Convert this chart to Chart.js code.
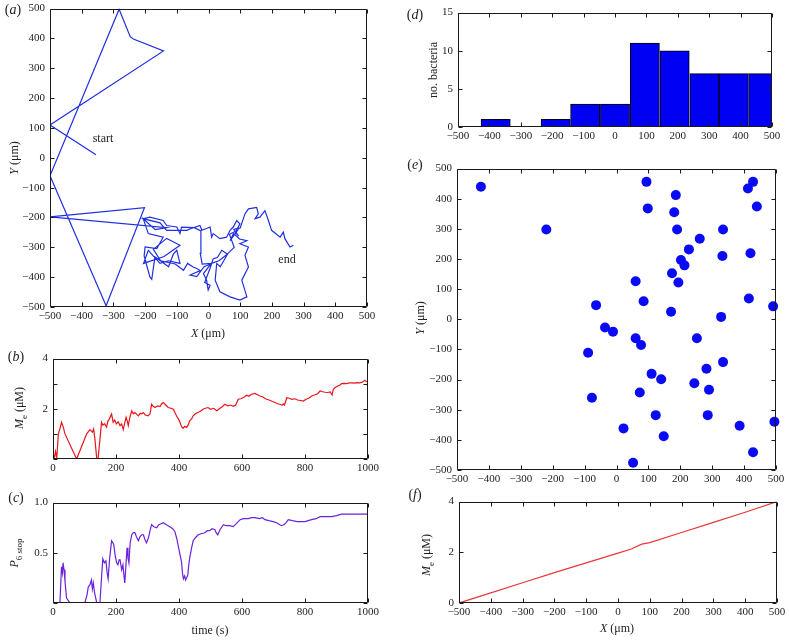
<!DOCTYPE html>
<html>
<head>
<meta charset="utf-8">
<script src="https://cdn.jsdelivr.net/npm/chart.js@4.4.1/dist/chart.umd.min.js"></script>
<style>
  body { margin: 0; background: #fff; }
  #fig { position: relative; width: 789px; height: 641px; overflow: hidden;
         font-family: "Liberation Serif", "DejaVu Serif", serif; color: #222; }
  canvas { position: absolute; }
  .lb { position: absolute; white-space: nowrap; transform: translate(-50%, -50%); font-size: 12px; line-height: 1; }
  .rot { transform: translate(-50%, -50%) rotate(-90deg); }
  .pl { font-size: 14px; }
  sub { font-size: 9px; }
</style>
</head>
<body>
<div id="fig">
  <canvas id="cA"></canvas>
  <canvas id="cB"></canvas>
  <canvas id="cC"></canvas>
  <canvas id="cD"></canvas>
  <canvas id="cE"></canvas>
  <canvas id="cF"></canvas>

  <div class="lb pl" style="left:13px;top:10px">(<i>a</i>)</div>
  <div class="lb rot" style="left:14px;top:158px"><i>Y</i> (μm)</div>
  <div class="lb" style="left:208px;top:333px"><i>X</i> (μm)</div>
  <div class="lb" style="left:103px;top:138px">start</div>
  <div class="lb" style="left:287px;top:259px">end</div>

  <div class="lb pl" style="left:16px;top:357px">(<i>b</i>)</div>
  <div class="lb rot" style="left:21px;top:408px"><i>M</i><sub>e</sub> (μM)</div>

  <div class="lb pl" style="left:16px;top:498px">(<i>c</i>)</div>
  <div class="lb rot" style="left:16px;top:553px"><i>P</i><sub>6 stop</sub></div>
  <div class="lb" style="left:210px;top:630px">time (s)</div>

  <div class="lb pl" style="left:415px;top:15px">(<i>d</i>)</div>
  <div class="lb rot" style="left:433px;top:70px">no. bacteria</div>

  <div class="lb pl" style="left:415px;top:165px">(<i>e</i>)</div>
  <div class="lb rot" style="left:420px;top:318px"><i>Y</i> (μm)</div>

  <div class="lb pl" style="left:415px;top:495px">(<i>f</i>)</div>
  <div class="lb rot" style="left:428px;top:555px"><i>M</i><sub>e</sub> (μM)</div>
  <div class="lb" style="left:617px;top:628px"><i>X</i> (μm)</div>
</div>

<script>
// (a) trajectory of one bacterium, X / Y in um
var trajX = [-355,-500,-142,-237,-247,-282,-500,-323,-202,-500,
  -132,-168,-200,-206,-190,-143,-163,-200,-203,-185,
  -179,-169,-126,-111,-100,-90,-126,-153,-190,-205,
  -140,-90,-132,-174,-151,-105,-79,-66,-47,-37,
  -26,-58,-37,-14,7,-16,-6,-1,5,-12,
  5,15,28,42,60,37,26,21,36,68,
  99,121,105,126,115,126,99,121,98,79,
  68,92,66,81,56,33,9,-20,-26,-24,
  -45,-85,-90,-100,-132,-143,-185,-206,-153,-132,
  -68,-58,-27,-21,5,10,15,36,57,68,
  78,89,99,85,95,80,100,115,126,152,
  157,147,162,178,189,199,226,236,241,257,
  268];
var trajY = [10,110,358,398,406,498,-60,-496,-167,-198,
  -234,-241,-210,-204,-254,-266,-304,-299,-329,-399,
  -407,-332,-365,-323,-310,-354,-345,-354,-310,-354,
  -331,-293,-270,-307,-345,-356,-377,-354,-367,-371,
  -378,-393,-398,-365,-356,-388,-410,-443,-427,-418,
  -370,-338,-334,-310,-323,-365,-354,-410,-449,-466,
  -477,-466,-410,-366,-327,-299,-288,-278,-272,-254,
  -278,-243,-256,-300,-326,-345,-354,-356,-320,-245,
  -234,-232,-254,-232,-227,-210,-199,-204,-218,-243,
  -243,-238,-227,-243,-232,-266,-254,-271,-266,-243,
  -232,-210,-221,-250,-262,-240,-235,-188,-171,-166,
  -188,-204,-199,-177,-210,-243,-266,-249,-271,-299,
  -293];

// (b) Me vs time
var bTime = [0,4,8,12,17,22,27,32,38,75,107,113,117,121,125,129,133,139,143,149,
  154,158,164,170,174,179,186,191,196,201,207,213,218,223,228,232,236,239,244,250,
  255,260,266,271,277,282,287,293,302,308,313,318,324,332,340,345,350,358,366,374,
  382,387,392,398,403,408,413,418,424,429,434,440,445,452,460,468,476,484,492,500,
  510,520,528,537,546,555,563,572,580,588,596,605,615,622,630,641,649,657,665,672,
  678,686,695,705,713,720,727,731,735,742,750,758,768,776,785,795,803,812,821,830,
  840,848,856,864,872,880,886,890,895,900,906,911,916,924,932,940,948,956,964,972,
  980,986,990,995,1000];
var bMe = [0.28,0,0.3,0.05,1.0,1.2,1.46,1.3,1.0,0,1.0,1.1,1.17,1.12,1.07,1.2,0.8,0,0,0.78,
  1.46,1.35,1.4,1.27,1.5,1.6,1.79,1.46,1.55,1.4,1.48,1.33,1.4,1.17,1.45,1.66,1.5,1.33,1.66,1.92,
  1.8,1.85,1.78,1.72,1.82,1.8,1.85,1.75,1.72,1.8,2.18,2.1,2.05,2.12,2.1,2.2,2.25,2.15,2.05,2.02,
  1.98,1.85,1.72,1.6,1.46,1.3,1.22,1.3,1.26,1.35,1.52,1.6,1.72,1.8,1.85,1.9,1.98,2.02,2.05,1.98,
  2.02,1.92,2.0,2.08,2.18,2.12,2.15,2.1,2.15,2.38,2.4,2.45,2.54,2.5,2.58,2.61,2.56,2.51,2.48,2.42,
  2.38,2.35,2.3,2.25,2.2,2.18,2.14,2.2,2.15,2.44,2.42,2.38,2.4,2.35,2.33,2.31,2.38,2.42,2.51,2.55,
  2.6,2.71,2.68,2.66,2.65,2.67,2.55,2.78,2.84,2.88,2.92,2.95,3.0,3.01,3.0,3.03,3.03,3.02,3.04,3.03,
  3.05,3.1,3.14,3.08,3.1];

// (c) P6stop vs time
var cTime = [0,22,27,30,32,35,38,43,54,101,108,112,117,122,125,128,132,139,149,153,
  158,163,168,172,175,180,186,190,193,197,202,206,210,213,218,222,226,228,232,235,
  238,241,245,250,255,260,265,271,276,282,287,292,297,303,308,313,320,329,336,343,
  350,360,371,380,387,393,397,402,408,411,414,418,421,424,428,431,434,440,445,452,
  461,470,482,490,497,505,514,518,523,530,541,550,560,572,582,594,605,620,630,641,
  655,665,673,685,699,710,720,726,733,740,747,760,775,789,800,810,821,835,848,860,
  875,885,900,916,950,1000];
var cP = [0,0,0.36,0.3,0.4,0.33,0.22,0.05,0,0,0.08,0.16,0.18,0.23,0.14,0.2,0.1,0,0,0.2,
  0.44,0.4,0.42,0.3,0.24,0.45,0.62,0.6,0.58,0.48,0.4,0.38,0.43,0.43,0.33,0.38,0.25,0.2,0.4,0.55,
  0.45,0.4,0.6,0.68,0.7,0.7,0.66,0.62,0.66,0.68,0.68,0.63,0.6,0.65,0.72,0.78,0.76,0.75,0.78,0.79,
  0.8,0.78,0.76,0.74,0.71,0.64,0.58,0.5,0.41,0.3,0.24,0.27,0.23,0.25,0.28,0.38,0.45,0.55,0.62,0.65,
  0.68,0.69,0.7,0.72,0.72,0.74,0.73,0.7,0.68,0.73,0.78,0.77,0.77,0.76,0.79,0.83,0.84,0.84,0.85,0.85,
  0.84,0.85,0.83,0.82,0.81,0.8,0.78,0.77,0.78,0.8,0.83,0.82,0.81,0.81,0.81,0.82,0.83,0.84,0.86,0.86,
  0.86,0.86,0.87,0.885,0.885,0.885];

// (d) histogram of final X positions
var dBinCenters = [-380,-284,-189,-95,0,95,190,285,378,472];
var dCounts = [1,0,1,3,3,11,10,7,7,7];

// (e) final positions of the bacteria
var eX = [-425,-220,94,186,98,181,190,412,428,440,334,261,227,332,420,202,213,174,194,60,
  85,-64,171,415,491,328,-36,-11,-89,60,77,252,334,282,110,140,244,290,73,-77,
  123,286,22,386,495,148,428,52];
var eY = [440,298,456,412,368,355,298,434,456,374,298,267,232,210,219,197,179,153,122,126,
  60,47,25,69,43,8,-27,-41,-111,-63,-85,-63,-142,-164,-181,-199,-212,-234,-243,-260,
  -318,-318,-362,-353,-340,-388,-441,-476];

// (f) Me profile along X
var fX = [-500,-400,-300,-200,-100,0,40,75,100,200,300,400,500];
var fMe = [0,0.4,0.8,1.2,1.58,1.97,2.12,2.32,2.38,2.78,3.18,3.58,4.0];

function pts(xs, ys) {
  return xs.map(function (x, i) { return { x: x, y: ys[i] }; });
}

function fmt(v) {
  return v < 0 ? '\u2212' + Math.abs(v) : String(v);
}

// box round the plot area with inward ticks on all four sides (matlab look)
var frameTicks = {
  id: 'frameTicks',
  afterDraw: function (chart) {
    var ctx = chart.ctx, a = chart.chartArea;
    var sx = chart.scales.x, sy = chart.scales.y;
    var L = Math.round(a.left) + 0.5, R = Math.round(a.right) - 0.5;
    var T = Math.round(a.top) + 0.5, B = Math.round(a.bottom) - 0.5;
    ctx.save();
    ctx.strokeStyle = '#1a1a1a';
    ctx.lineWidth = 1;
    ctx.beginPath();
    ctx.rect(L, T, R - L, B - T);
    sx.ticks.forEach(function (t) {
      var p = Math.round(sx.getPixelForValue(t.value)) + 0.5;
      ctx.moveTo(p, B); ctx.lineTo(p, B - 4);
      ctx.moveTo(p, T); ctx.lineTo(p, T + 4);
    });
    sy.ticks.forEach(function (t) {
      var p = Math.round(sy.getPixelForValue(t.value)) + 0.5;
      ctx.moveTo(L, p); ctx.lineTo(L + 4, p);
      ctx.moveTo(R, p); ctx.lineTo(R - 4, p);
    });
    ctx.stroke();
    ctx.restore();
  }
};

var tickFont = { family: '"Liberation Serif", "DejaVu Serif", serif', size: 11 };

function axis(min, max, step, cb, isX) {
  return {
    type: 'linear', min: min, max: max, offset: false,
    grid: { display: false, drawTicks: false },
    border: { display: false },
    ticks: {
      stepSize: step, autoSkip: false, maxRotation: 0, color: '#222',
      font: tickFont, padding: isX ? 3 : 5,
      callback: cb || fmt
    },
    afterFit: function (s) { if (isX) s.height = 22; else s.width = 45; }
  };
}

function panel(id, f, type, datasets, xs, ys) {
  var c = document.getElementById(id);
  c.width = f.r - f.l + 61;
  c.height = f.b - f.t + 32;
  c.style.left = (f.l - 45) + 'px';
  c.style.top = (f.t - 10) + 'px';
  return new Chart(c, {
    type: type,
    data: { datasets: datasets },
    options: {
      responsive: false, animation: false,
      layout: { padding: { left: 0, top: 10, right: 16, bottom: 0 } },
      plugins: { legend: { display: false }, tooltip: { enabled: false } },
      scales: { x: xs, y: ys }
    },
    plugins: [frameTicks]
  });
}

// (a)
panel('cA', { l: 50, r: 367, t: 7, b: 307 }, 'scatter', [{
  data: pts(trajX, trajY), showLine: true, pointRadius: 0,
  borderColor: '#1f2fe0', borderWidth: 1.2
}], axis(-500, 500, 100, null, true), axis(-500, 500, 100, null, false));

// (b)
panel('cB', { l: 53, r: 368, t: 357, b: 459 }, 'scatter', [{
  data: pts(bTime, bMe), showLine: true, pointRadius: 0,
  borderColor: '#e8151b', borderWidth: 1.2
}], axis(0, 1000, 200, null, true),
   axis(0, 4, 1, function (v) { return (v === 2 || v === 4) ? String(v) : ''; }, false));

// (c)
panel('cC', { l: 53, r: 368, t: 501, b: 603 }, 'scatter', [{
  data: pts(cTime, cP), showLine: true, pointRadius: 0,
  borderColor: '#6a22dc', borderWidth: 1.2
}], axis(0, 1000, 200, null, true),
   axis(0, 1, 0.5, function (v) { return v === 0 ? '' : v.toFixed(1); }, false));

// (d)
panel('cD', { l: 458, r: 772, t: 11, b: 127 }, 'bar', [{
  data: pts(dBinCenters, dCounts),
  backgroundColor: '#0000f2', borderColor: '#000', borderWidth: 1,
  borderSkipped: false, barPercentage: 1, categoryPercentage: 1, clip: 0
}], axis(-500, 500, 100, null, true), axis(0, 15, 5, null, false));

// (e)
panel('cE', { l: 457, r: 776, t: 167, b: 470 }, 'scatter', [{
  data: pts(eX, eY), pointRadius: 5, pointBorderWidth: 0,
  backgroundColor: '#0a0af5', clip: false
}], axis(-500, 500, 100, null, true), axis(-500, 500, 100, null, false));

// (f)
panel('cF', { l: 459, r: 777, t: 500, b: 603 }, 'scatter', [{
  data: pts(fX, fMe), showLine: true, pointRadius: 0,
  borderColor: '#e8383a', borderWidth: 1.2
}], axis(-500, 500, 100, null, true), axis(0, 4, 2, null, false));
</script>
</body>
</html>
